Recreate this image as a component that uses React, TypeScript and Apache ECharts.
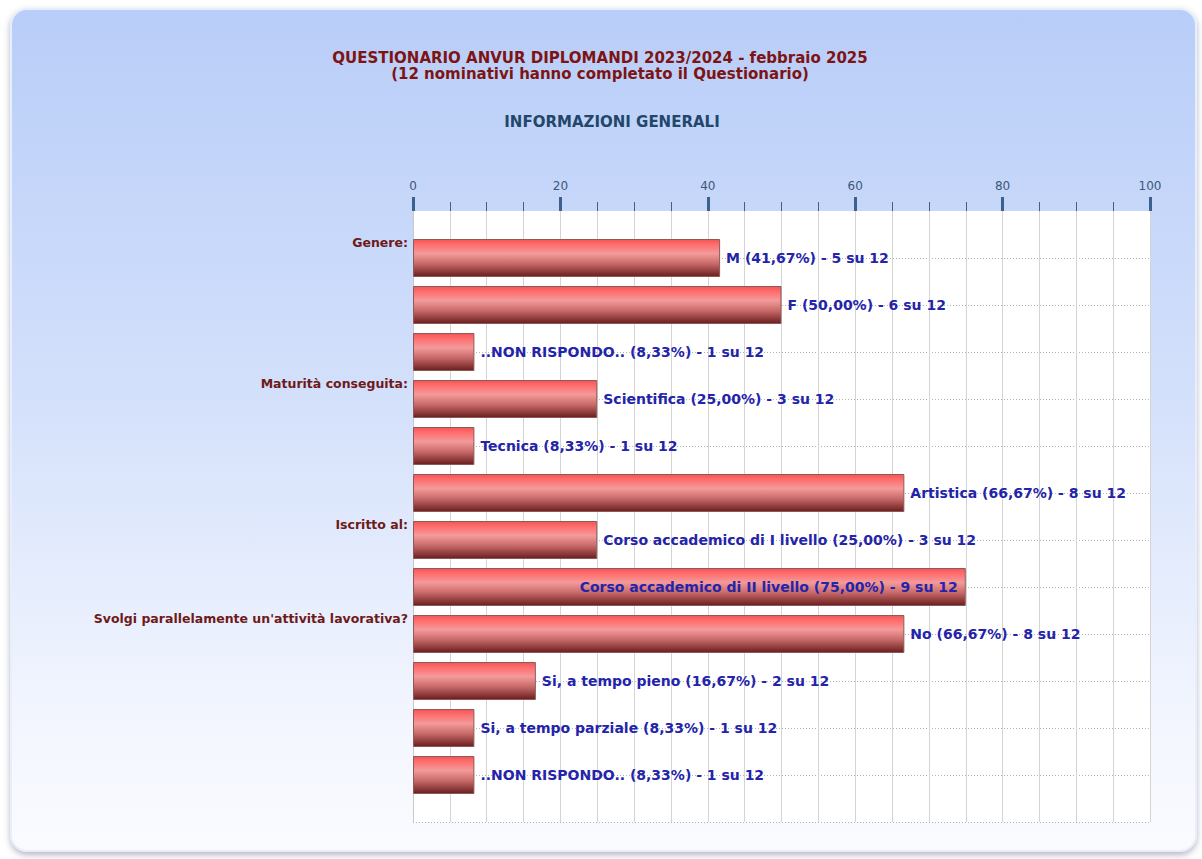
import React, { useEffect, useRef } from "react";
import * as echarts from "echarts";

const titleLine1 = "QUESTIONARIO ANVUR DIPLOMANDI 2023/2024 - febbraio 2025";
const titleLine2 = "(12 nominativi hanno completato il Questionario)";
const sectionTitle = "INFORMAZIONI GENERALI";

// one slot before and after the 12 answers (empty)
const groupLabels = [
  "",
  "Genere:",
  "",
  "",
  "Maturità conseguita:",
  "",
  "",
  "Iscritto al:",
  "",
  "Svolgi parallelamente un'attività lavorativa?",
  "",
  "",
  "",
  "",
];

const answers = [
  "M",
  "F",
  "..NON RISPONDO..",
  "Scientifica",
  "Tecnica",
  "Artistica",
  "Corso accademico di I livello",
  "Corso accademico di II livello",
  "No",
  "Si, a tempo pieno",
  "Si, a tempo parziale",
  "..NON RISPONDO..",
];
const percentages = [41.67, 50.0, 8.33, 25.0, 8.33, 66.67, 25.0, 75.0, 66.67, 16.67, 8.33, 8.33];
const counts = [5, 6, 1, 3, 1, 8, 3, 9, 8, 2, 1, 1];
const total = 12;
const insideLabelIndex = [7];

const xTicks = [0, 20, 40, 60, 80, 100];

export default function App() {
  const ref = useRef<HTMLDivElement>(null);
  useEffect(() => {
    document.body.style.margin = "0";
    const chart = echarts.init(ref.current!, undefined, { renderer: "svg" });
    const fmt = (v: number) => v.toFixed(2).replace(".", ",");
    const data: any[] = [null];
    answers.forEach((a, i) => {
      const item: any = {
        value: percentages[i],
        labelText: `${a} (${fmt(percentages[i])}%) - ${counts[i]} su ${total}`,
      };
      if (insideLabelIndex.includes(i)) {
        item.label = { position: "insideRight", distance: 8 };
      }
      data.push(item);
    });
    data.push(null);

    chart.setOption({
      animation: false,
      textStyle: { fontFamily: "DejaVu Sans" },
      graphic: [
        {
          type: "rect",
          z: -10,
          shape: { x: 11, y: 9, width: 1185, height: 842, r: 16 },
          style: {
            fill: new echarts.graphic.LinearGradient(0, 0, 0, 1, [
              { offset: 0, color: "#b8cdf8" },
              { offset: 0.45, color: "#d3e0fb" },
              { offset: 0.85, color: "#f3f6fe" },
              { offset: 1, color: "#fafbff" },
            ]),
            stroke: "#e8eefc",
            lineWidth: 2,
            shadowColor: "rgba(90,100,130,0.45)",
            shadowBlur: 6,
            shadowOffsetY: 3,
          },
        },
        {
          type: "text",
          x: 600,
          y: 50,
          style: {
            text: titleLine1 + "\n" + titleLine2,
            fill: "#7d1414",
            font: "bold 15px 'DejaVu Sans'",
            textAlign: "center",
            lineHeight: 16,
          },
        },
        {
          type: "text",
          x: 612,
          y: 114,
          style: {
            text: sectionTitle,
            fill: "#23466b",
            font: "bold 15px 'DejaVu Sans'",
            textAlign: "center",
          },
        },
      ],
      grid: {
        left: 413,
        right: 52,
        top: 211,
        bottom: 37,
        show: true,
        backgroundColor: "#ffffff",
        borderWidth: 0,
      },
      xAxis: {
        type: "value",
        position: "top",
        min: xTicks[0],
        max: xTicks[xTicks.length - 1],
        interval: 20,
        axisLine: { show: false },
        axisTick: { show: true, length: 14, lineStyle: { color: "#3a6190", width: 3 } },
        minorTick: { show: true, splitNumber: 4, length: 9, lineStyle: { color: "#3a6190", width: 1 } },
        axisLabel: { color: "#3b5878", fontSize: 12, margin: 19 },
        splitLine: { show: true, lineStyle: { color: "#d4d4d4", width: 1 } },
        minorSplitLine: { show: true, lineStyle: { color: "#d4d4d4", width: 1 } },
      },
      yAxis: {
        type: "category",
        inverse: true,
        boundaryGap: false,
        data: groupLabels,
        axisLine: { show: true, lineStyle: { color: "#c8c8c8" } },
        axisTick: { show: false },
        axisLabel: {
          interval: 0,
          color: "#6e1a1a",
          fontWeight: "bold",
          fontSize: 12.5,
          margin: 5,
          lineHeight: 16,
          formatter: (v: string) => (v ? v + "\n\n" : ""),
        },
        splitLine: {
          show: true,
          interval: (idx: number) => idx > 0,
          lineStyle: { color: "#b4b4b4", type: [1, 2], width: 1 },
        },
      },
      series: [
        {
          type: "bar",
          data,
          barWidth: 38,
          itemStyle: {
            color: new echarts.graphic.LinearGradient(0, 0, 0, 1, [
              { offset: 0, color: "#f25656" },
              { offset: 0.12, color: "#ff6a6a" },
              { offset: 0.38, color: "#f49a9a" },
              { offset: 0.65, color: "#c96a6a" },
              { offset: 1, color: "#6a1e1e" },
            ]),
            borderColor: "#8d5a5a",
            borderWidth: 1,
          },
          label: {
            show: true,
            position: "right",
            distance: 6,
            color: "#2424aa",
            fontWeight: "bold",
            fontSize: 14,
            formatter: (p: any) => p.data.labelText,
          },
        },
      ],
    });
    return () => chart.dispose();
  }, []);
  return <div ref={ref} style={{ width: 1202, height: 859 }} />;
}
